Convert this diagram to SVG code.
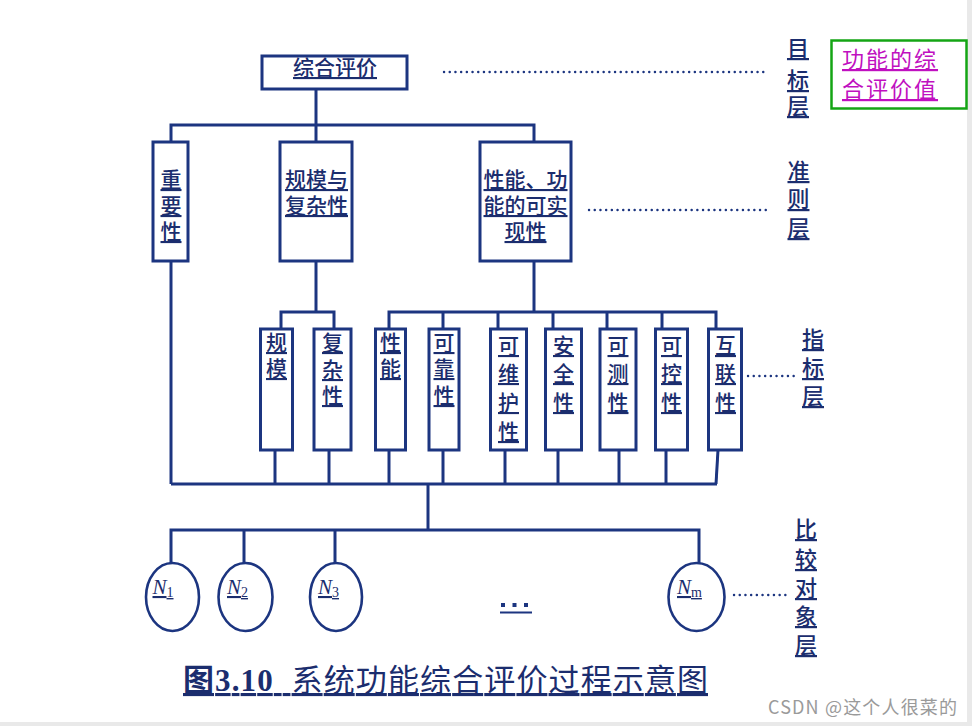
<svg xmlns="http://www.w3.org/2000/svg" width="972" height="726" viewBox="0 0 972 726">
<style>
.bx{fill:#fff;stroke:#1c3580;stroke-width:3}
.ln{fill:none;stroke:#1c3580;stroke-width:3}
.el{fill:#fff;stroke:#1c3580;stroke-width:2.6}
.dt{fill:none;stroke:#1c3580;stroke-width:2.4;stroke-linecap:round;stroke-dasharray:0.1 5.6}
.t{font-family:"Noto Sans CJK SC","Noto Sans CJK TC",sans-serif;font-weight:500;fill:#1b2d6e;text-decoration:underline;text-anchor:middle;font-size:21px}
.t22{font-size:22px}
.n{font-family:"Liberation Serif",serif;fill:#1b2d6e;text-decoration:underline;font-size:21px}
.sub{font-size:14px;font-style:normal}
.mg{font-family:"Noto Sans CJK SC",sans-serif;fill:#c010c0;text-decoration:underline;font-size:22px;letter-spacing:2px}
</style>
<rect x="0" y="0" width="972" height="726" fill="#fff"/>
<rect x="967" y="0" width="5" height="726" fill="#e9e9e9"/>
<rect x="0" y="722" width="972" height="4" fill="#e9e9e9"/>

<g id="connectors">
<polyline class="ln" points="316,89 316,125"/>
<polyline class="ln" points="171,142 171,125 534,125 534,142"/>
<polyline class="ln" points="316,125 316,142"/>
<polyline class="ln" points="171,261 171,484"/>
<polyline class="ln" points="316,261 316,312"/>
<polyline class="ln" points="534,261 534,312"/>
<polyline class="ln" points="281,329 281,312 334,312 334,329"/>
<polyline class="ln" points="389,329 389,312 716,312 716,329"/>
<line class="ln" x1="443" y1="312" x2="443" y2="329"/>
<line class="ln" x1="498" y1="312" x2="498" y2="329"/>
<line class="ln" x1="553" y1="312" x2="553" y2="329"/>
<line class="ln" x1="607" y1="312" x2="607" y2="329"/>
<line class="ln" x1="662" y1="312" x2="662" y2="329"/>
<line class="ln" x1="171" y1="484" x2="717" y2="484"/>
<line class="ln" x1="275" y1="450" x2="275" y2="484"/>
<line class="ln" x1="329" y1="450" x2="329" y2="484"/>
<line class="ln" x1="389" y1="450" x2="389" y2="484"/>
<line class="ln" x1="443" y1="450" x2="443" y2="484"/>
<line class="ln" x1="505" y1="450" x2="505" y2="484"/>
<line class="ln" x1="558" y1="450" x2="558" y2="484"/>
<line class="ln" x1="619" y1="450" x2="619" y2="484"/>
<line class="ln" x1="666" y1="450" x2="666" y2="484"/>
<line class="ln" x1="718" y1="450" x2="716" y2="484"/>
<line class="ln" x1="428" y1="484" x2="428" y2="530"/>
<polyline class="ln" points="171,563 171,530 699,530 699,563"/>
<line class="ln" x1="244" y1="530" x2="244" y2="563"/>
<line class="ln" x1="335" y1="530" x2="335" y2="563"/>
<line class="dt" x1="444" y1="72" x2="765" y2="72"/>
<line class="dt" x1="589" y1="210" x2="767" y2="210"/>
<line class="dt" x1="748" y1="376" x2="797" y2="376"/>
<line class="dt" x1="734" y1="595" x2="790" y2="595"/>
</g>

<g id="goal">
<rect class="bx" x="262" y="56" width="145" height="33"/>
<text class="t" x="335" y="75">综合评价</text>
</g>

<g id="importance">
<rect class="bx" x="153" y="142" width="35" height="119"/>
<text class="t"><tspan x="171" y="187">重</tspan><tspan x="171" y="213">要</tspan><tspan x="171" y="239">性</tspan></text>
</g>
<g id="scale-complexity">
<rect class="bx" x="280" y="142" width="72" height="119"/>
<text class="t"><tspan x="316.5" y="187">规模与</tspan><tspan x="316.5" y="213">复杂性</tspan></text>
</g>
<g id="performance-feasibility">
<rect class="bx" x="480" y="142" width="91" height="119"/>
<text class="t"><tspan x="525.5" y="187">性能、功</tspan><tspan x="525.5" y="213">能的可实</tspan><tspan x="525.5" y="239">现性</tspan></text>
</g>

<g id="scale">
<rect class="bx" x="260.5" y="329" width="32" height="121"/>
<text class="t"><tspan x="276.5" y="350">规</tspan><tspan x="276.5" y="376">模</tspan></text>
</g>
<g id="complexity">
<rect class="bx" x="314" y="329" width="37" height="121"/>
<text class="t"><tspan x="332.5" y="350">复</tspan><tspan x="332.5" y="377">杂</tspan><tspan x="332.5" y="403">性</tspan></text>
</g>
<g id="performance">
<rect class="bx" x="375.5" y="329" width="30" height="121"/>
<text class="t"><tspan x="390.5" y="350">性</tspan><tspan x="390.5" y="376">能</tspan></text>
</g>
<g id="reliability">
<rect class="bx" x="429" y="329" width="30" height="121"/>
<text class="t"><tspan x="444" y="350">可</tspan><tspan x="444" y="376">靠</tspan><tspan x="444" y="403">性</tspan></text>
</g>
<g id="maintainability">
<rect class="bx" x="490.5" y="329" width="36" height="121"/>
<text class="t"><tspan x="508.5" y="353">可</tspan><tspan x="508.5" y="381">维</tspan><tspan x="508.5" y="410">护</tspan><tspan x="508.5" y="439">性</tspan></text>
</g>
<g id="safety">
<rect class="bx" x="545.5" y="329" width="36" height="121"/>
<text class="t"><tspan x="563.5" y="353">安</tspan><tspan x="563.5" y="381">全</tspan><tspan x="563.5" y="410">性</tspan></text>
</g>
<g id="testability">
<rect class="bx" x="600" y="329" width="36" height="121"/>
<text class="t"><tspan x="618" y="353">可</tspan><tspan x="618" y="381">测</tspan><tspan x="618" y="410">性</tspan></text>
</g>
<g id="controllability">
<rect class="bx" x="655.5" y="329" width="32" height="121"/>
<text class="t"><tspan x="671.5" y="353">可</tspan><tspan x="671.5" y="381">控</tspan><tspan x="671.5" y="410">性</tspan></text>
</g>
<g id="interconnectivity">
<rect class="bx" x="708.5" y="329" width="33" height="121"/>
<text class="t"><tspan x="725.5" y="353">互</tspan><tspan x="725.5" y="381">联</tspan><tspan x="725.5" y="410">性</tspan></text>
</g>

<g id="N1">
<ellipse class="el" cx="172.5" cy="597" rx="26.5" ry="34"/>
<text class="n" x="152.5" y="594"><tspan font-style="italic">N</tspan><tspan class="sub" dy="3">1</tspan></text>
</g>
<g id="N2">
<ellipse class="el" cx="245.5" cy="597" rx="27" ry="34"/>
<text class="n" x="227" y="594"><tspan font-style="italic">N</tspan><tspan class="sub" dy="3">2</tspan></text>
</g>
<g id="N3">
<ellipse class="el" cx="336" cy="597" rx="26" ry="34"/>
<text class="n" x="318" y="594"><tspan font-style="italic">N</tspan><tspan class="sub" dy="3">3</tspan></text>
</g>
<g id="Nm">
<ellipse class="el" cx="696.5" cy="597" rx="28" ry="34"/>
<text class="n" x="677" y="594"><tspan font-style="italic">N</tspan><tspan class="sub" dy="3">m</tspan></text>
</g>
<g id="ellipsis" fill="#1c3580">
<rect x="501" y="603" width="4" height="4"/>
<rect x="512.5" y="603" width="4" height="4"/>
<rect x="524" y="603" width="4" height="4"/>
<rect x="500" y="611.5" width="32" height="2"/>
</g>

<g id="layer-labels">
<text class="t t22"><tspan x="798" y="56">目</tspan><tspan x="798" y="88">标</tspan><tspan x="798" y="114">层</tspan></text>
<text class="t t22"><tspan x="798.5" y="179">准</tspan><tspan x="798.5" y="207">则</tspan><tspan x="798.5" y="236">层</tspan></text>
<text class="t t22"><tspan x="813" y="347">指</tspan><tspan x="813" y="376">标</tspan><tspan x="813" y="404">层</tspan></text>
<text class="t t22"><tspan x="806" y="537">比</tspan><tspan x="806" y="567">较</tspan><tspan x="806" y="596">对</tspan><tspan x="806" y="624">象</tspan><tspan x="806" y="653">层</tspan></text>
</g>

<g id="value-note">
<rect x="831.5" y="40.5" width="135" height="68" fill="none" stroke="#14a514" stroke-width="2.5"/>
<text class="mg"><tspan x="842" y="67">功能的综</tspan><tspan x="842" y="97">合评价值</tspan></text>
</g>

<g id="caption">
<text x="183" y="691" textLength="525" lengthAdjust="spacing" font-size="31" fill="#1b2d6e" text-decoration="underline" font-family="Noto Sans CJK SC,sans-serif"><tspan font-weight="bold">图</tspan><tspan font-family="Liberation Serif,serif" font-weight="bold">3.10&#160;&#160;</tspan><tspan>系统功能综合评价过程示意图</tspan></text>
</g>
<text x="768" y="714" font-size="18" fill="#9a9a9a" textLength="189" lengthAdjust="spacing" font-family="Noto Sans CJK SC,sans-serif">CSDN @这个人很菜的</text>
</svg>
